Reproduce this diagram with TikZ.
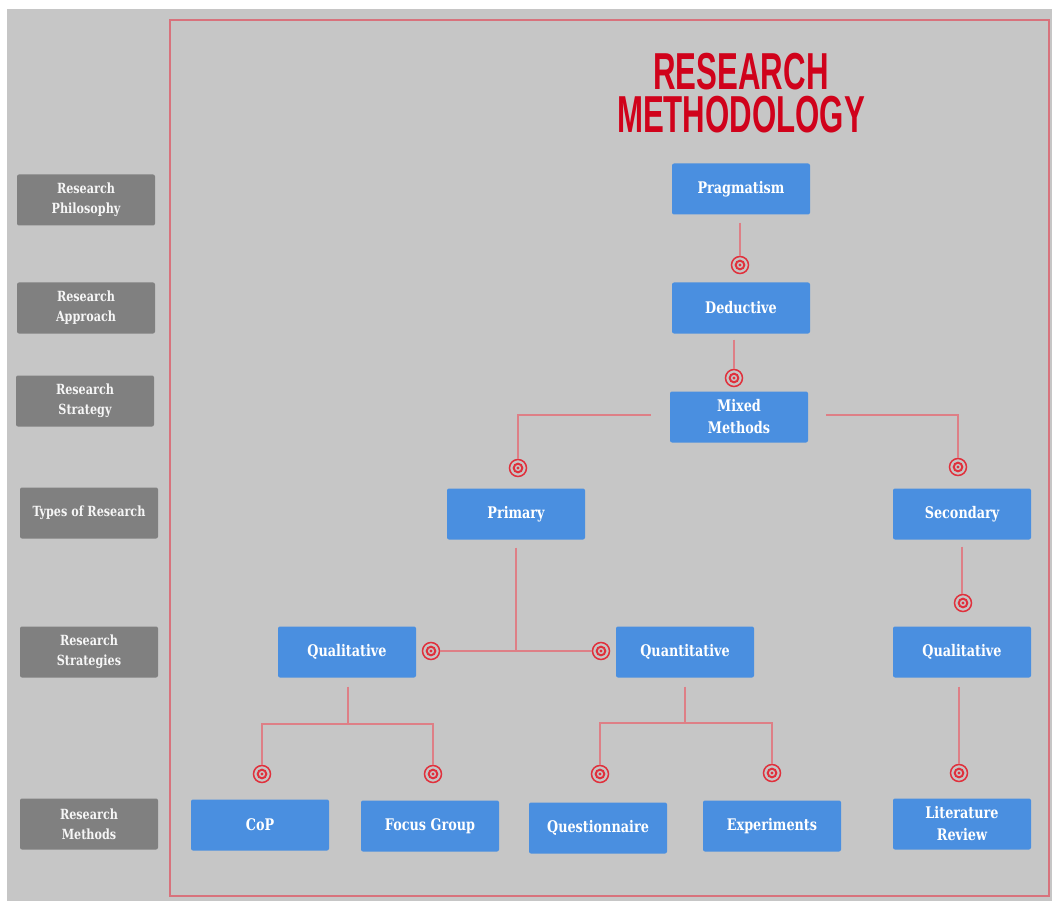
\documentclass[tikz,border=0pt]{standalone}
\usepackage{fontspec}
\newfontfamily\titlefont[FakeStretch=0.6]{Liberation Sans}
\newfontfamily\boxfont[FakeStretch=0.8]{DejaVu Serif}
\definecolor{bggray}{HTML}{C6C6C6}
\definecolor{boxblue}{HTML}{4A8FE0}
\definecolor{labgray}{HTML}{808080}
\definecolor{framered}{HTML}{D8727C}
\definecolor{linered}{HTML}{DE7F86}
\definecolor{mred}{HTML}{E0303C}
\definecolor{titlered}{HTML}{D0021B}
\tikzset{
  bluebox/.style={fill=boxblue, rounded corners=2pt, minimum width=138pt, minimum height=51pt,
    inner sep=0pt, text=white, align=center, font=\boxfont\bfseries\fontsize{16}{22}\selectfont},
  labbox/.style={fill=labgray, rounded corners=2pt, minimum width=138pt, minimum height=51pt,
    inner sep=0pt, text=white!93!gray, align=center, font=\boxfont\bfseries\fontsize{14}{20}\selectfont},
  titletext/.style={text=titlered, font=\titlefont\bfseries\fontsize{52}{52}\selectfont,
    inner sep=0pt, text height=37pt, text depth=0pt},
  conn/.style={draw=linered, line width=1.8pt},
  tgt/.style={circle, draw=mred, line width=1.5pt, minimum size=17pt, inner sep=0pt,
    path picture={\draw[mred, line width=2pt] (path picture bounding box.center) circle (4.3pt);
      \fill[mred] (path picture bounding box.center) circle (1.7pt);}}
}
\begin{document}
\begin{tikzpicture}[x=1pt, y=-1pt]
\useasboundingbox (0,0) rectangle (1052,901);
\fill[white] (0,0) rectangle (1052,901);
\fill[bggray] (7,9) rectangle (1052,901);
\draw[framered, line width=2pt] (170,20) rectangle (1049,896);

% title
\node[titletext, anchor=base] (title1) at (741,90) {RESEARCH};
\node[titletext, anchor=base] (title2) at (741,133) {METHODOLOGY};

% left labels
\node[labbox] (l1) at (86,200) {Research\\Philosophy};
\node[labbox] (l2) at (86,308) {Research\\Approach};
\node[labbox] (l3) at (85,401) {Research\\Strategy};
\node[labbox] (l4) at (89,513) {Types of Research};
\node[labbox] (l5) at (89,652) {Research\\Strategies};
\node[labbox] (l6) at (89,824) {Research\\Methods};

% blue boxes
\node[bluebox] (prag) at (741,189) {Pragmatism};
\node[bluebox] (ded) at (741,308) {Deductive};
\node[bluebox] (mixed) at (739,417) {Mixed\\Methods};
\node[bluebox] (prim) at (516,514) {Primary};
\node[bluebox] (sec) at (962,514) {Secondary};
\node[bluebox] (qualL) at (347,652) {Qualitative};
\node[bluebox] (quant) at (685,652) {Quantitative};
\node[bluebox] (qualR) at (962,652) {Qualitative};
\node[bluebox] (cop) at (260,825) {CoP};
\node[bluebox] (focus) at (430,826) {Focus Group};
\node[bluebox] (quest) at (598,828) {Questionnaire};
\node[bluebox] (exp) at (772,826) {Experiments};
\node[bluebox] (lit) at (962,824) {Literature\\Review};

% target markers
\node[tgt] (m1) at (740,265) {};
\node[tgt] (m2) at (734,378) {};
\node[tgt] (m3) at (518,468) {};
\node[tgt] (m4) at (958,467) {};
\node[tgt] (m5) at (431,651) {};
\node[tgt] (m6) at (601,651) {};
\node[tgt] (m7) at (963,603) {};
\node[tgt] (m8) at (262,774) {};
\node[tgt] (m9) at (433,774) {};
\node[tgt] (m10) at (600,774) {};
\node[tgt] (m11) at (772,773) {};
\node[tgt] (m12) at (959,773) {};

\coordinate (jl) at (348,724);
\coordinate (jq) at (685,723);
\coordinate (jp) at (516,651);

% connectors
\draw[conn, shorten <=8pt] (prag.south -| m1.north) -- (m1.north);
\draw[conn, shorten <=6pt] (ded.south -| m2.north) -- (m2.north);
\draw[conn, shorten <=19pt] ([yshift=2pt]mixed.west) -| (m3.north);
\draw[conn, shorten <=18pt] ([yshift=2pt]mixed.east) -| (m4.north);
\draw[conn, shorten <=8pt] (prim.south) -- (jp);
\draw[conn] (m5.east) -- (m6.west);
\draw[conn, shorten <=7pt] (sec.south) -- (sec.south |- m7.north);
\draw[conn, shorten <=9pt] (qualL.south -| jl) -- (jl);
\draw[conn] (m8.north) |- (jl) -| (m9.north);
\draw[conn, shorten <=9pt] (quant.south) -- (jq);
\draw[conn] (m10.north) |- (jq) -| (m11.north);
\draw[conn, shorten <=9pt] (qualR.south -| m12.north) -- (m12.north);
\end{tikzpicture}
\end{document}
